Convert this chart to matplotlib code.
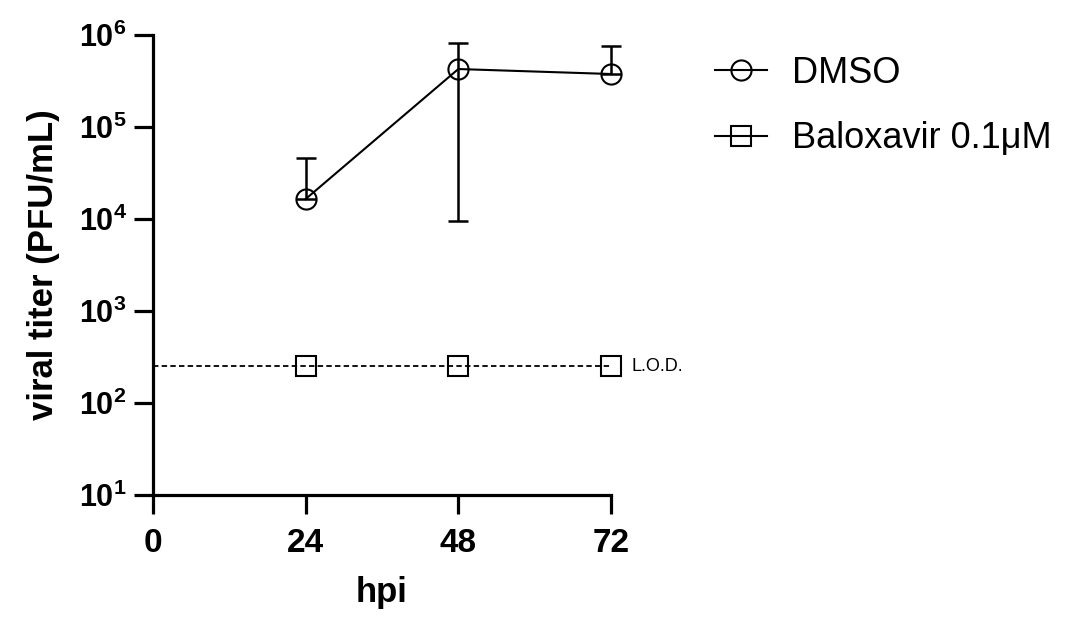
import numpy as np
import matplotlib
matplotlib.use("Agg")
import matplotlib.pyplot as plt
from matplotlib.ticker import FixedLocator, NullLocator

plt.rcParams['font.family'] = ['Liberation Sans', 'DejaVu Sans']
plt.rcParams['mathtext.fontset'] = 'custom'
plt.rcParams['mathtext.rm'] = 'Liberation Sans'
plt.rcParams['mathtext.bf'] = 'Liberation Sans:bold'

hpi = [24, 48, 72]
dmso_mean = [1.65e4, 4.27e5, 3.77e5]
dmso_err_low = [0.0, 4.175e5, 0.0]
dmso_err_high = [2.95e4, 3.92e5, 3.83e5]
balox_mean = [250, 250, 250]
lod = 250
x_ticks = [0, 24, 48, 72]
y_ticks = [1e1, 1e2, 1e3, 1e4, 1e5, 1e6]
y_ticklabels = [r'$\mathbf{10^{%d}}$' % e for e in range(1, 7)]

fig = plt.figure(figsize=(10.67, 6.19), dpi=100)
ax = fig.add_axes([0.1434, 0.2003, 0.4292, 0.7431])
ax.set_yscale('log')
ax.set_xlim(0, 72)
ax.set_ylim(1e1, 1e6)

# LOD dashed line
ax.plot([x_ticks[0], x_ticks[-1]], [lod, lod], color='black', lw=1.3,
        dashes=(3, 1.8), zorder=2, clip_on=False)

ax.errorbar(hpi, dmso_mean, yerr=[dmso_err_low, dmso_err_high], fmt='none',
            ecolor='black', elinewidth=1.8, capsize=7.5, capthick=1.8,
            zorder=3, clip_on=False)
l1, = ax.plot(hpi, dmso_mean, color='black', lw=1.5, marker='o', ms=14.5,
              mfc='none', mec='black', mew=1.5, label='DMSO', zorder=4,
              clip_on=False)
ax.plot(hpi, balox_mean, linestyle='none', marker='s', ms=14,
        mfc='none', mec='black', mew=1.5, zorder=4, clip_on=False)
l2, = ax.plot([], [], color='black', lw=1.5, marker='s', ms=14,
              mfc='none', mec='black', mew=1.5, label='Baloxavir 0.1μM')

for sp in ['top', 'right']:
    ax.spines[sp].set_visible(False)
for sp in ['left', 'bottom']:
    ax.spines[sp].set_linewidth(2.3)

ax.xaxis.set_major_locator(FixedLocator(x_ticks))
ax.set_xticklabels([str(v) for v in x_ticks], fontweight='bold')
ax.yaxis.set_major_locator(FixedLocator(y_ticks))
ax.yaxis.set_minor_locator(NullLocator())
ax.set_yticklabels(y_ticklabels)
ax.tick_params(axis='both', which='major', length=14, width=2.3,
               direction='out')
ax.tick_params(axis='x', labelsize=24, pad=10)
ax.tick_params(axis='y', labelsize=22, pad=5)
ax.set_xlabel('hpi', fontsize=25, fontweight='bold', labelpad=12)
ax.set_ylabel('viral titer (PFU/mL)', fontsize=25, fontweight='bold', labelpad=13)

ax.text(1.045, lod, 'L.O.D.', transform=ax.get_yaxis_transform(),
        fontsize=13, va='center', ha='left')

fig.legend(handles=[l1, l2], loc='upper left', bbox_to_anchor=(0.670, 0.910),
           frameon=False, fontsize=26, markerscale=1.0, handlelength=1.45,
           labelspacing=0.85, handletextpad=0.68, borderpad=0,
           borderaxespad=0)

fig.savefig('out.png', dpi=100)
